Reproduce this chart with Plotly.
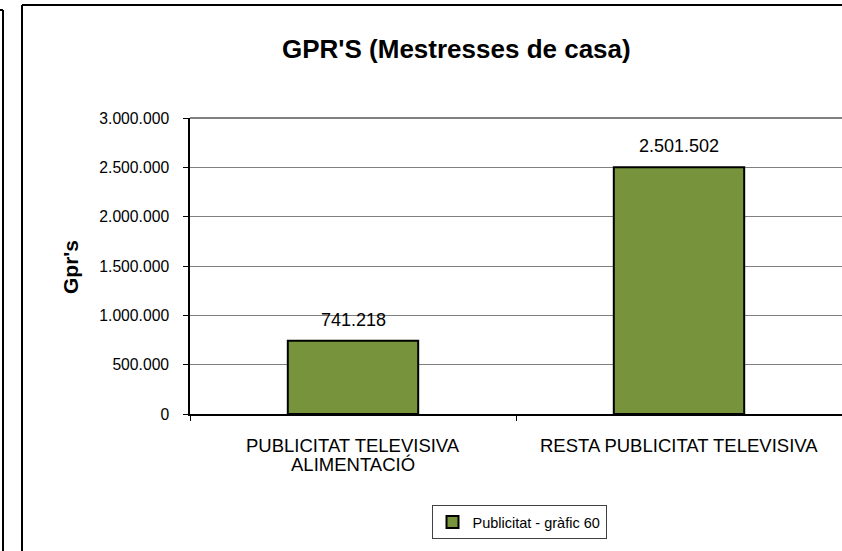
import plotly.graph_objects as go

categories = ["PUBLICITAT TELEVISIVA ALIMENTACIÓ", "RESTA PUBLICITAT TELEVISIVA"]
category_lines = [["PUBLICITAT TELEVISIVA", "ALIMENTACIÓ"], ["RESTA PUBLICITAT TELEVISIVA"]]
values = [741218, 2501502]
series_name = "Publicitat - gràfic 60"
title_text = "GPR'S (Mestresses de casa)"
y_title = "Gpr's"
y_ticks = [0, 500000, 1000000, 1500000, 2000000, 2500000, 3000000]

W, H = 842, 551
L, R, T, B = 190, 0, 118, 137
pw = W - L - R
ph = H - T - B

def px_x(p):
    return (p - L) / pw

def px_y(p):
    return (H - B - p) / ph

def fmt(v):
    return f"{v:,}".replace(",", ".")

FONT = "Liberation Sans, Arial, sans-serif"

fig = go.Figure()
fig.add_trace(go.Bar(
    x=categories, y=values, name=series_name,
    marker=dict(color="#77933C", line=dict(color="black", width=2)),
    width=0.4, showlegend=True,
))

annotations = []
for c, v in zip(categories, values):
    annotations.append(dict(x=c, y=v, xref="x", yref="y", text=fmt(v),
                            showarrow=False, yanchor="bottom", yshift=9,
                            font=dict(family=FONT, size=18, color="black")))
# category labels, one annotation per line
for c, lines in zip(categories, category_lines):
    for i, line in enumerate(lines):
        annotations.append(dict(x=c, y=px_y(445 + 19 * i), xref="x", yref="paper", text=line,
                                showarrow=False, xanchor="center", yanchor="middle",
                                font=dict(family=FONT, size=18.5, color="black")))
annotations.append(dict(x=px_x(456), y=px_y(49), xref="paper", yref="paper",
                        text="<b>" + title_text + "</b>", showarrow=False,
                        xanchor="center", yanchor="middle",
                        font=dict(family=FONT, size=26, color="black")))
annotations.append(dict(x=px_x(70), y=px_y(267), xref="paper", yref="paper",
                        text="<b>" + y_title + "</b>", showarrow=False, textangle=-90,
                        xanchor="center", yanchor="middle",
                        font=dict(family=FONT, size=21, color="black")))

shapes = [
    dict(type="line", xref="paper", yref="paper", x0=px_x(3), x1=px_x(3), y0=px_y(10), y1=px_y(560),
         line=dict(color="black", width=2)),
    dict(type="line", xref="paper", yref="paper", x0=px_x(-10), x1=px_x(3), y0=px_y(10), y1=px_y(10),
         line=dict(color="black", width=2)),
    dict(type="line", xref="paper", yref="paper", x0=px_x(22), x1=px_x(22), y0=px_y(5), y1=px_y(560),
         line=dict(color="black", width=2)),
    dict(type="line", xref="paper", yref="paper", x0=px_x(22), x1=px_x(860), y0=px_y(5), y1=px_y(5),
         line=dict(color="black", width=2)),
    dict(type="line", xref="paper", yref="paper", x0=0, x1=1, y0=1, y1=1,
         line=dict(color="#808080", width=2)),
]

fig.update_layout(
    width=W, height=H,
    margin=dict(l=L, r=R, t=T, b=B, pad=0),
    paper_bgcolor="white", plot_bgcolor="white",
    separators=",.",
    font=dict(family=FONT, size=15, color="black"),
    annotations=annotations,
    shapes=shapes,
    showlegend=True,
    legend=dict(x=px_x(519), y=px_y(505), xanchor="center", yanchor="top",
                orientation="h", bordercolor="#404040", borderwidth=1,
                bgcolor="white", font=dict(family=FONT, size=14.5, color="black"),
                itemwidth=30),
    xaxis=dict(range=[-0.5, 1.5], showline=True, linecolor="black", linewidth=1.5,
               ticks="outside", tickson="boundaries", ticklen=5, tickcolor="black",
               showticklabels=False, showgrid=False, zeroline=False, fixedrange=True),
    yaxis=dict(range=[0, 3000000], tickvals=y_ticks, tickformat=",d",
               showline=True, linecolor="black", linewidth=1.5,
               ticks="outside", ticklen=5, tickcolor="black", ticklabelstandoff=11,
               tickfont=dict(family=FONT, size=15.7, color="black"),
               showgrid=True, gridcolor="#808080", gridwidth=1, zeroline=False),
)

fig.write_html("out.html", config={"displayModeBar": False},
               post_script="document.body.style.margin='0';")
